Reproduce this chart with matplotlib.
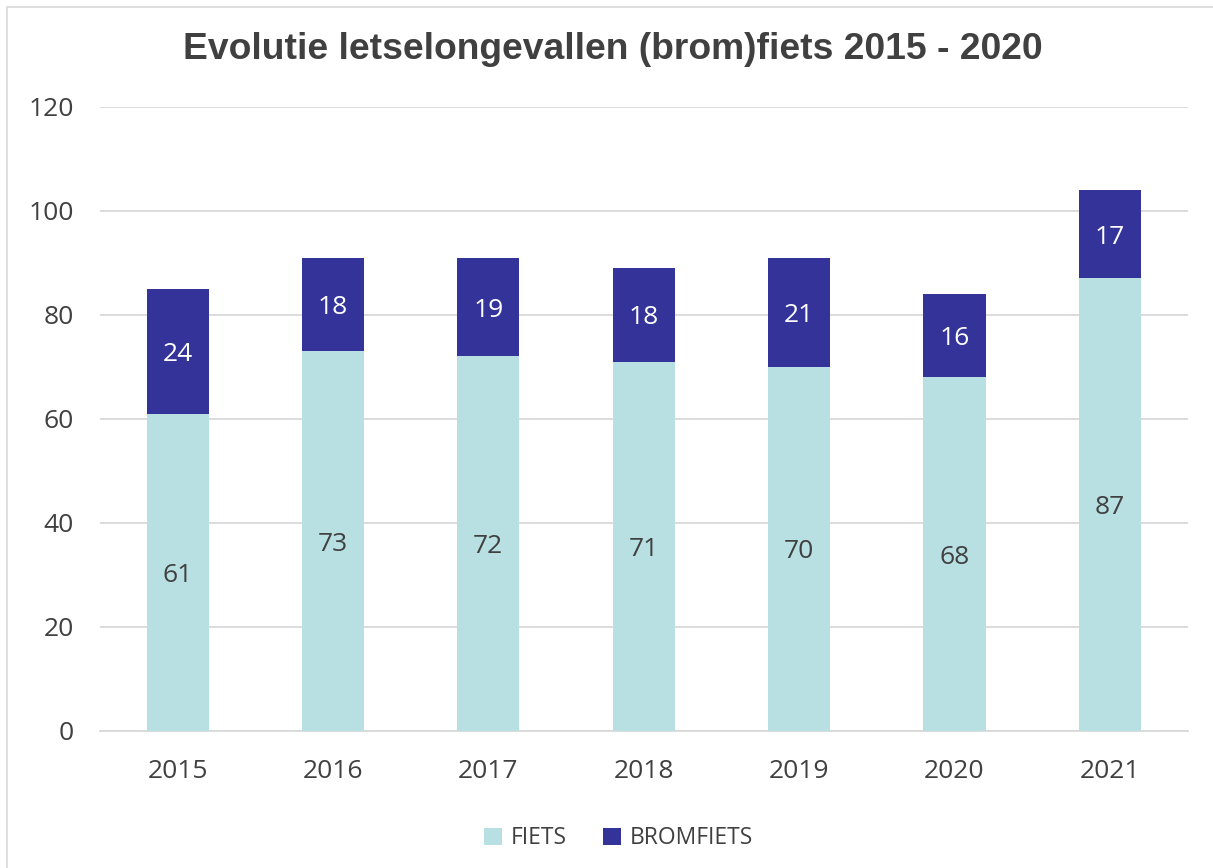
import matplotlib
matplotlib.use("Agg")
import matplotlib.pyplot as plt
from matplotlib.patches import Rectangle

years = ["2015", "2016", "2017", "2018", "2019", "2020", "2021"]
fiets = [61, 73, 72, 71, 70, 68, 87]
bromfiets = [24, 18, 19, 18, 21, 16, 17]
title = "Evolutie letselongevallen (brom)fiets 2015 - 2020"
yticks = [0, 20, 40, 60, 80, 100, 120]

c_fiets = "#B8E0E2"
c_brom = "#333399"
txt = "#404040"
font = ["Open Sans", "DejaVu Sans"]

plt.rcParams['font.family'] = font

fig = plt.figure(figsize=(12.13, 8.68), dpi=100)
ax = fig.add_axes([0.0824, 0.158, 0.8966, 0.719])

x = list(range(len(years)))
b1 = ax.bar(x, fiets, width=0.4, color=c_fiets, label="FIETS", zorder=3)
b2 = ax.bar(x, bromfiets, width=0.4, bottom=fiets, color=c_brom, label="BROMFIETS", zorder=3)

for xi, f, b in zip(x, fiets, bromfiets):
    ax.text(xi, f / 2 - 0.6, str(f), ha="center", va="center", fontsize=19, color=txt, zorder=4)
    ax.text(xi, f + b / 2 - 0.6, str(b), ha="center", va="center", fontsize=19, color="white", zorder=4)

ax.set_xlim(-0.5, len(years) - 0.5)
ax.set_ylim(0, 120)
ax.set_yticks(yticks)
ax.set_xticks(x)
ax.set_xticklabels(years)
ax.tick_params(axis="both", length=0, labelsize=19, labelcolor=txt)
ax.tick_params(axis="y", pad=19)
ax.tick_params(axis="x", pad=20)
ax.grid(axis="y", color="#D9D9D9", linewidth=1.3, zorder=0)
for s in ["top", "right", "left"]:
    ax.spines[s].set_visible(False)
ax.spines["bottom"].set_color("#D9D9D9")
ax.spines["bottom"].set_linewidth(1.3)

fig.text(0.505, 0.943, title, ha="center", va="center", fontsize=26.8, fontweight="bold",
         color=txt, family=["Liberation Sans", "DejaVu Sans"])

fig.legend(handles=[b1, b2], loc="center", bbox_to_anchor=(0.51, 0.034), ncol=2,
           frameon=False, fontsize=16.5, labelcolor=txt, handlelength=0.75, handleheight=0.75,
           columnspacing=1.6, handletextpad=0.4)

fig.patches.append(Rectangle((7 / 1213, -0.01), 1.02, 1.0 - 7 / 868 + 0.01, transform=fig.transFigure,
                             fill=False, edgecolor="#D9D9D9", linewidth=1.2))

fig.savefig("out.png", dpi=100)
